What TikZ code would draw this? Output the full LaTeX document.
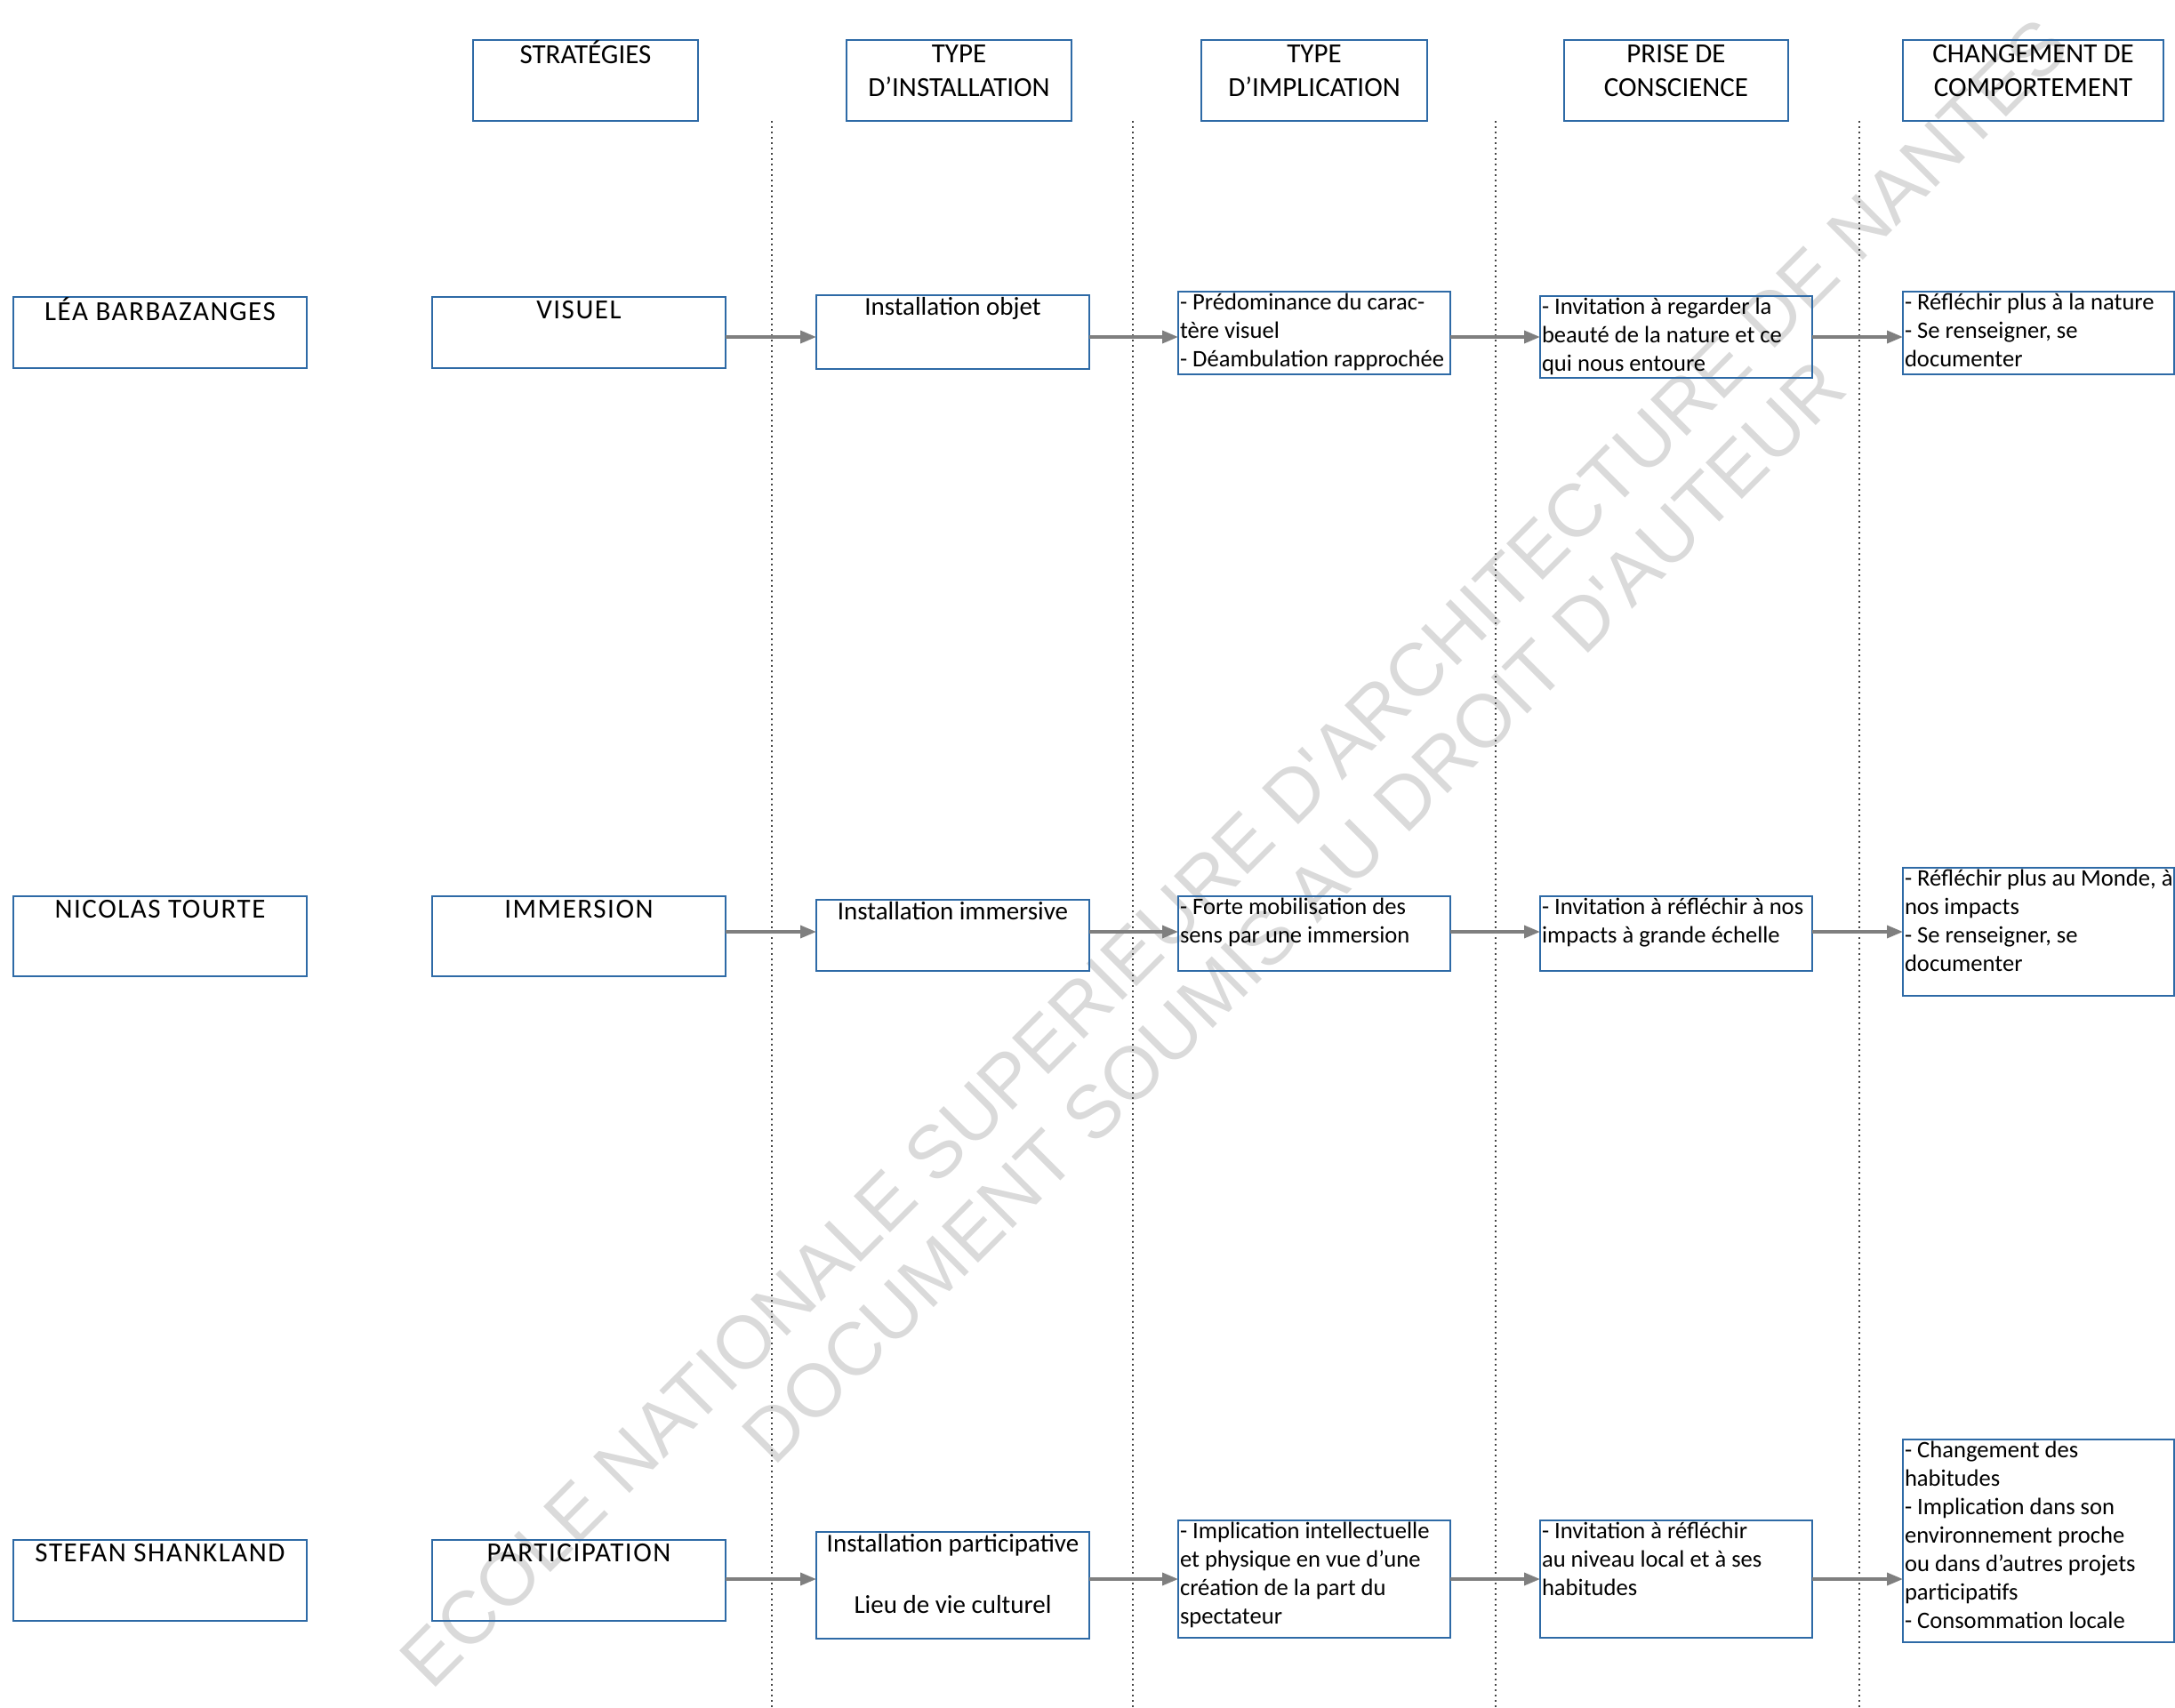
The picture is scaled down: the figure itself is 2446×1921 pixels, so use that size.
\documentclass[tikz,border=0pt]{standalone}
\usepackage{fontspec}
\setmainfont{Carlito}
\newfontfamily\wmfont{Liberation Sans}
\newfontfamily\spfont[LetterSpace=5]{Carlito}
\usetikzlibrary{arrows.meta}
\definecolor{boxblue}{RGB}{46,106,166}
\definecolor{arrgray}{RGB}{127,127,127}
\definecolor{wmgray}{RGB}{218,218,218}
\definecolor{dotgray}{RGB}{70,70,70}
\newcommand\flh{\rule{0pt}{12.5pt}}
\newcommand\fln{\rule{0pt}{12.25pt}}
\newcommand\fli{\rule{0pt}{11.25pt}}
\newcommand\fld{\rule{0pt}{10.25pt}}
\newcommand\mkbox[5]{\node[bx,minimum width={(#4-#2)*0.5pt},minimum height={(#5-#3)*0.5pt}] (#1) at (#2,#3) {};}
\tikzset{
  bx/.style={draw=boxblue,line width=0.8pt,inner sep=0pt,outer sep=0pt,anchor=north west},
  hdtext/.style={inner sep=0pt,anchor=north,align=center,font=\fontsize{15.5}{19}\selectfont},
  nmtext/.style={inner sep=0pt,anchor=north,align=center,font=\spfont\fontsize{15.5}{19}\selectfont},
  intext/.style={inner sep=0pt,anchor=north,align=center,font=\fontsize{14.5}{17.5}\selectfont},
  dstext/.style={inner sep=0pt,anchor=north west,align=left,xshift=0.8pt,font=\fontsize{13.3}{16}\selectfont},
  arr/.style={draw=arrgray,line width=1.7pt,-{Triangle[length=9pt,width=7pt]}},
  sep/.style={draw=dotgray,line width=0.7pt,dash pattern=on 0.8pt off 2.2pt},
  wm/.style={text=wmgray,rotate=45,inner sep=0pt,font=\wmfont\fontsize{42}{50}\selectfont}
}
\begin{document}
\begin{tikzpicture}[x=0.5pt,y=-0.5pt]
\useasboundingbox (0,0) rectangle (2446,1921);
% watermark
\node[wm] (wm1) at (1388,959) {ECOLE NATIONALE SUPERIEURE D'ARCHITECTURE DE NANTES};
\node[wm] (wm2) at (1455,1025) {DOCUMENT SOUMIS AU DROIT D'AUTEUR};
% separators
\coordinate (d1t) at (868,136); \coordinate (d1b) at (868,1921);
\coordinate (d2t) at (1274,136); \coordinate (d2b) at (1274,1921);
\coordinate (d3t) at (1682,136); \coordinate (d3b) at (1682,1921);
\coordinate (d4t) at (2091,136); \coordinate (d4b) at (2091,1921);
\draw[sep] (d1t) -- (d1b);
\draw[sep] (d2t) -- (d2b);
\draw[sep] (d3t) -- (d3b);
\draw[sep] (d4t) -- (d4b);
% headers
\mkbox{h1}{532}{45}{785}{136}
\mkbox{h2}{952}{45}{1205}{136}
\mkbox{h3}{1351}{45}{1605}{136}
\mkbox{h4}{1759}{45}{2011}{136}
\mkbox{h5}{2140}{45}{2433}{136}
\node[hdtext] (h1t) at (h1.north) {\flh STRATÉGIES};
\node[hdtext] (h2t) at (h2.north) {\flh TYPE\\D’INSTALLATION};
\node[hdtext] (h3t) at (h3.north) {\flh TYPE\\D’IMPLICATION};
\node[hdtext] (h4t) at (h4.north) {\flh PRISE DE\\CONSCIENCE};
\node[hdtext] (h5t) at (h5.north) {\flh CHANGEMENT DE\\COMPORTEMENT};
% row 1
\mkbox{n1}{15}{334}{345}{414}
\mkbox{s1}{486}{334}{816}{414}
\mkbox{i1}{918}{332}{1225}{415}
\mkbox{p1}{1325}{328}{1631}{421}
\mkbox{c1}{1732}{333}{2038}{425}
\mkbox{b1}{2140}{328}{2445}{421}
\node[nmtext] (n1t) at (n1.north) {\fln LÉA BARBAZANGES};
\node[nmtext] (s1t) at (s1.north) {\fln VISUEL};
\node[intext] (i1t) at (i1.north) {\fli Installation objet};
\node[dstext] (p1t) at (p1.north west) {\fld - Prédominance du carac-\\tère visuel\\- Déambulation rapprochée};
\node[dstext] (c1t) at (c1.north west) {\fld - Invitation à regarder la\\beauté de la nature et ce\\qui nous entoure};
\node[dstext] (b1t) at (b1.north west) {\fld - Réfléchir plus à la nature\\- Se renseigner, se\\documenter};
% row 2
\mkbox{n2}{15}{1008}{345}{1098}
\mkbox{s2}{486}{1008}{816}{1098}
\mkbox{i2}{918}{1012}{1225}{1092}
\mkbox{p2}{1325}{1008}{1631}{1092}
\mkbox{c2}{1732}{1008}{2038}{1092}
\mkbox{b2}{2140}{976}{2445}{1120}
\node[nmtext] (n2t) at (n2.north) {\fln NICOLAS TOURTE};
\node[nmtext] (s2t) at (s2.north) {\fln IMMERSION};
\node[intext] (i2t) at (i2.north) {\fli Installation immersive};
\node[dstext] (p2t) at (p2.north west) {\fld - Forte mobilisation des\\sens par une immersion};
\node[dstext] (c2t) at (c2.north west) {\fld - Invitation à réfléchir à nos\\impacts à grande échelle};
\node[dstext] (b2t) at (b2.north west) {\fld - Réfléchir plus au Monde, à\\nos impacts\\- Se renseigner, se\\documenter};
% row 3
\mkbox{n3}{15}{1732}{345}{1823}
\mkbox{s3}{486}{1732}{816}{1823}
\mkbox{i3}{918}{1723}{1225}{1843}
\mkbox{p3}{1325}{1710}{1631}{1842}
\mkbox{c3}{1732}{1710}{2038}{1842}
\mkbox{b3}{2140}{1619}{2445}{1847}
\node[nmtext] (n3t) at (n3.north) {\fln STEFAN SHANKLAND};
\node[nmtext] (s3t) at (s3.north) {\fln PARTICIPATION};
\node[intext] (i3t) at (i3.north) {\fli Installation participative\\[17pt]Lieu de vie culturel};
\node[dstext] (p3t) at (p3.north west) {\fld - Implication intellectuelle\\et physique en vue d’une\\création de la part du\\spectateur};
\node[dstext] (c3t) at (c3.north west) {\fld - Invitation à réfléchir\\au niveau local et à ses\\habitudes};
\node[dstext] (b3t) at (b3.north west) {\fld - Changement des\\habitudes\\- Implication dans son\\environnement proche\\ou dans d’autres projets\\participatifs\\- Consommation locale};
% arrows
\coordinate (r1) at (0,379);
\coordinate (r2) at (0,1048);
\coordinate (r3) at (0,1776);
\draw[arr] (s1.east |- r1) -- (i1.west |- r1);
\draw[arr] (i1.east |- r1) -- (p1.west |- r1);
\draw[arr] (p1.east |- r1) -- (c1.west |- r1);
\draw[arr] (c1.east |- r1) -- (b1.west |- r1);
\draw[arr] (s2.east |- r2) -- (i2.west |- r2);
\draw[arr] (i2.east |- r2) -- (p2.west |- r2);
\draw[arr] (p2.east |- r2) -- (c2.west |- r2);
\draw[arr] (c2.east |- r2) -- (b2.west |- r2);
\draw[arr] (s3.east |- r3) -- (i3.west |- r3);
\draw[arr] (i3.east |- r3) -- (p3.west |- r3);
\draw[arr] (p3.east |- r3) -- (c3.west |- r3);
\draw[arr] (c3.east |- r3) -- (b3.west |- r3);
\end{tikzpicture}
\end{document}
